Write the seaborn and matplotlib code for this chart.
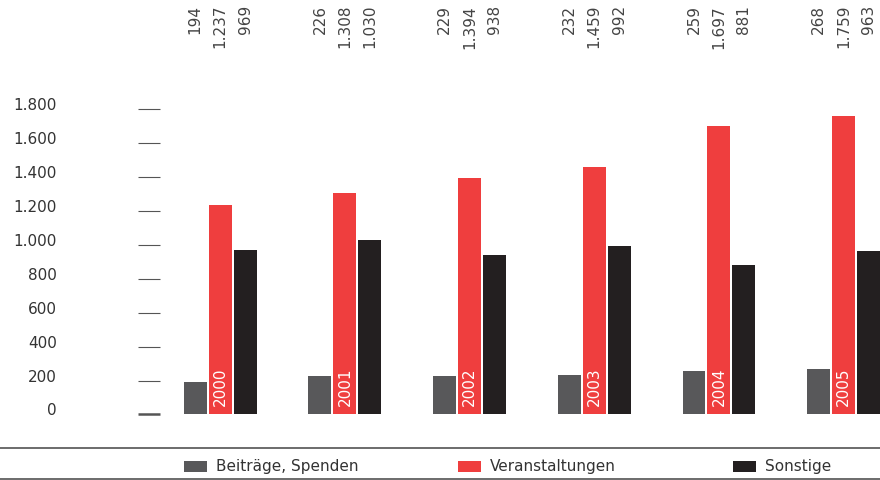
import pandas as pd
import numpy as np
import matplotlib.pyplot as plt
import seaborn as sns
from matplotlib.lines import Line2D
from matplotlib.patches import Rectangle

# data
years = ["2000", "2001", "2002", "2003", "2004", "2005"]
beitraege = [194, 226, 229, 232, 259, 268]
veranstaltungen = [1237, 1308, 1394, 1459, 1697, 1759]
sonstige = [969, 1030, 938, 992, 881, 963]
series = ["Beiträge, Spenden", "Veranstaltungen", "Sonstige"]
colors = ["#58585a", "#ef3e3e", "#231f20"]
yticks = [0, 200, 400, 600, 800, 1000, 1200, 1400, 1600, 1800]

df = pd.DataFrame({
    "Jahr": years * 3,
    "Serie": [series[0]] * 6 + [series[1]] * 6 + [series[2]] * 6,
    "Wert": beitraege + veranstaltungen + sonstige,
})

def de(v):
    return f"{v:,}".replace(",", ".")

sns.set_style("white")
plt.rcParams["font.family"] = ["DejaVu Sans"]

W, H = 880, 481
fig = plt.figure(figsize=(W / 100, H / 100), dpi=100)
ax = fig.add_axes([160 / W, (H - 449.3) / H, 720 / W, (449.3 - 90) / H])

sns.barplot(data=df, x="Jahr", y="Wert", hue="Serie", palette=colors,
            width=0.6, gap=0.08, saturation=1, legend=False, linewidth=0, ax=ax)

ax.set_xlim(-0.483, 5.292)
ax.set_ylim(-199.2, 1917.9)
for s in ax.spines.values():
    s.set_visible(False)
ax.set_xticks([])
ax.set_xlabel(""); ax.set_ylabel("")

ax.set_yticks(yticks)
ax.set_yticklabels([de(v) for v in yticks])
ax.tick_params(axis="y", left=True, direction="out", length=15.8, width=0.8,
               color="#555555", pad=58.3, labelsize=11, labelcolor="#333333")
t0 = ax.yaxis.get_major_ticks()[0]
t0.tick1line.set_markeredgewidth(1.8)
t0.tick1line.set_color("#222222")
for lbl in ax.get_yticklabels():
    lbl.set_va("baseline")

# value labels on top and year labels inside red bars
vals = [beitraege, veranstaltungen, sonstige]
for j, cont in enumerate(ax.containers):
    for i, bar in enumerate(cont):
        xc = bar.get_x() + bar.get_width() / 2
        ax.annotate(de(vals[j][i]), xy=(xc, H - 5), xycoords=("data", "figure pixels"),
                    rotation=90, ha="center", va="top", fontsize=11,
                    color="#444444", annotation_clip=False)
        if j == 1:
            ax.annotate(years[i], xy=(xc, 0), xytext=(0, 6.5), textcoords="offset points",
                        rotation=90, ha="center", va="bottom", fontsize=11,
                        color="white")

# rules and legend
for yy in [449.3, 480]:
    fig.add_artist(Line2D([0, 1], [(H - yy) / H] * 2, transform=fig.transFigure,
                          color="#444444", lw=1.1))
leg_x = [184, 458, 733]
for x0, name, c in zip(leg_x, series, colors):
    fig.add_artist(Rectangle((x0 / W, (H - 472.5) / H), 23 / W, 11 / H,
                             transform=fig.transFigure, color=c, lw=0))
    fig.text((x0 + 32) / W, (H - 467) / H, name, ha="left", va="center",
             fontsize=11, color="#333333")

fig.savefig("out.png", dpi=100)
